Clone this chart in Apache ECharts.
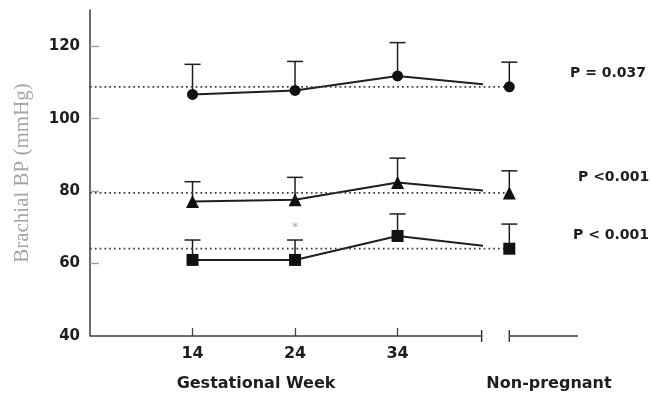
<!DOCTYPE html>
<html>
<head>
<meta charset="utf-8">
<script src="https://cdn.jsdelivr.net/npm/echarts@6/dist/echarts.min.js"></script>
<style>
  html, body { margin: 0; padding: 0; background: #fff; }
  #chart { width: 651px; height: 395px; }
</style>
</head>
<body>
<div id="chart"></div>
<script>
// Gestational weeks with measurements, and the x position of the non-pregnant column
const weeks = [14, 24, 34];
const nonPregnantX = 44.9;
const weekTicks = [14, 24, 34];
const yTickLabels = [40, 60, 80, 100, 120];

// Systolic (circles): means and upper error limits
const sbpMean = [106.7, 107.8, 111.8];
const sbpUpper = [115, 115.8, 121];
const sbpNonPreg = 108.8;
const sbpNonPregUpper = 115.6;

// Mean arterial (triangles)
const mapMean = [77.1, 77.6, 82.4];
const mapUpper = [82.6, 83.8, 89.1];
const mapNonPreg = 79.5;
const mapNonPregUpper = 85.6;

// Diastolic (squares)
const dbpMean = [61, 61, 67.6];
const dbpUpper = [66.5, 66.5, 73.7];
const dbpNonPreg = 64.1;
const dbpNonPregUpper = 70.9;

const pLabels = ['P = 0.037', 'P <0.001', 'P < 0.001'];
const starMark = [24, 69.8];

// Axis extent and the break in the x axis line
const X_MIN = 4, X_MAX = 51.6, X_BREAK = 42.2;
const Y_MIN = 40, Y_MAX = 130;

const GRID = { left: 90, right: 73, top: 10, bottom: 59 };
const plotW = 651 - GRID.left - GRID.right;
const lineGridW = plotW * (X_BREAK - X_MIN) / (X_MAX - X_MIN);

const INK = '#1e1e1e';
const BOLD = 'DejaVu Sans';

function pts(xs, ys) { return xs.map((x, i) => [x, ys[i]]); }

const groups = [
  { mean: sbpMean, upper: sbpUpper, np: sbpNonPreg, npUp: sbpNonPregUpper, symbol: 'circle', size: 11 },
  { mean: mapMean, upper: mapUpper, np: mapNonPreg, npUp: mapNonPregUpper, symbol: 'triangle', size: 13 },
  { mean: dbpMean, upper: dbpUpper, np: dbpNonPreg, npUp: dbpNonPregUpper, symbol: 'rect', size: 12 }
];

function renderErr(params, api) {
  const x = api.value(0), m = api.value(1), u = api.value(2);
  const p0 = api.coord([x, m]);
  const p1 = api.coord([x, u]);
  const half = 8;
  const st = { stroke: INK, lineWidth: 1.5 };
  return {
    type: 'group',
    children: [
      { type: 'line', shape: { x1: p0[0], y1: p0[1], x2: p1[0], y2: p1[1] }, style: st },
      { type: 'line', shape: { x1: p1[0] - half, y1: p1[1], x2: p1[0] + half, y2: p1[1] }, style: st }
    ]
  };
}

// Broken x axis line: [start, end, tick at start, tick at end]
const axisSegments = [[X_MIN, X_BREAK, 0, 1], [nonPregnantX, X_MAX, 1, 0]];
function renderAxis(params, api) {
  const a = api.coord([api.value(0), Y_MIN]);
  const b = api.coord([api.value(1), Y_MIN]);
  const st = { stroke: '#3a3a3a', lineWidth: 1.5 };
  const kids = [{ type: 'line', shape: { x1: a[0], y1: a[1], x2: b[0], y2: b[1] }, style: st }];
  if (api.value(2)) kids.push({ type: 'line', shape: { x1: a[0], y1: a[1] - 6, x2: a[0], y2: a[1] + 6 }, style: st });
  if (api.value(3)) kids.push({ type: 'line', shape: { x1: b[0], y1: b[1] - 6, x2: b[0], y2: b[1] + 6 }, style: st });
  return { type: 'group', children: kids };
}

const series = [];
groups.forEach((g) => {
  // connecting line, clipped at the axis break
  series.push({
    type: 'line', xAxisIndex: 1, yAxisIndex: 1,
    data: pts(weeks.concat([nonPregnantX]), g.mean.concat([g.np])),
    showSymbol: false, clip: true, silent: true,
    lineStyle: { color: INK, width: 2 }
  });
  // dotted reference at the non-pregnant mean
  series.push({
    type: 'line', xAxisIndex: 0, yAxisIndex: 0,
    data: [[X_MIN, g.np], [nonPregnantX, g.np]],
    showSymbol: false, silent: true,
    lineStyle: { color: '#444', width: 1.8, type: [1.8, 3] }
  });
  // upper error bars
  series.push({
    type: 'custom', xAxisIndex: 0, yAxisIndex: 0, clip: false,
    data: pts(weeks, g.mean).map((p, i) => [p[0], p[1], g.upper[i]])
      .concat([[nonPregnantX, g.np, g.npUp]]),
    encode: { x: 0, y: [1, 2] },
    renderItem: renderErr, silent: true
  });
  // markers
  series.push({
    type: 'scatter', xAxisIndex: 0, yAxisIndex: 0,
    data: pts(weeks.concat([nonPregnantX]), g.mean.concat([g.np])),
    symbol: g.symbol, symbolSize: g.size,
    itemStyle: { color: '#111', opacity: 1 }, silent: true, z: 5
  });
});

series.push({
  type: 'custom', xAxisIndex: 0, yAxisIndex: 0, clip: false,
  data: axisSegments, encode: { x: [0, 1] },
  renderItem: renderAxis, silent: true
});

series.push({
  type: 'scatter', xAxisIndex: 0, yAxisIndex: 0,
  data: [starMark], symbolSize: 0, silent: true,
  label: { show: true, position: 'inside', formatter: '*', color: '#9a9a9a', fontSize: 13, fontFamily: BOLD }
});

const chart = echarts.init(document.getElementById('chart'), null, { renderer: 'canvas' });
chart.setOption({
  backgroundColor: '#ffffff',
  animation: false,
  grid: [
    Object.assign({ outerBoundsMode: 'none' }, GRID),
    { left: GRID.left, width: lineGridW, top: GRID.top, bottom: GRID.bottom, outerBoundsMode: 'none' }
  ],
  xAxis: [
    {
      type: 'value', gridIndex: 0, min: X_MIN, max: X_MAX,
      axisLine: { show: false },
      axisTick: { show: true, inside: true, length: 8, customValues: weekTicks, lineStyle: { color: '#444', width: 1.3 } },
      axisLabel: { customValues: weekTicks, margin: 10, color: INK, fontFamily: BOLD, fontWeight: 'bold', fontSize: 16 },
      splitLine: { show: false }
    },
    { type: 'value', gridIndex: 1, min: X_MIN, max: X_BREAK, show: false }
  ],
  yAxis: [
    {
      type: 'value', gridIndex: 0, min: Y_MIN, max: Y_MAX,
      axisLine: { show: true, lineStyle: { color: '#3a3a3a', width: 1.5 } },
      axisTick: { show: true, inside: true, length: 9, customValues: [60, 80, 100, 120], lineStyle: { color: '#9a9a9a', width: 1.3 } },
      axisLabel: { customValues: yTickLabels, margin: 10, color: INK, fontFamily: BOLD, fontWeight: 'bold', fontSize: 15 },
      splitLine: { show: false },
      name: 'Brachial BP (mmHg)', nameLocation: 'middle', nameRotate: 90, nameGap: 57,
      nameTextStyle: { fontFamily: 'Liberation Serif', fontSize: 21, color: '#a6a6a6' }
    },
    { type: 'value', gridIndex: 1, min: Y_MIN, max: Y_MAX, show: false }
  ],
  graphic: [
    { type: 'text', left: 570, top: 66, style: { text: pLabels[0], font: 'bold 14px "DejaVu Sans"', fill: INK } },
    { type: 'text', left: 578, top: 170, style: { text: pLabels[1], font: 'bold 14px "DejaVu Sans"', fill: INK } },
    { type: 'text', left: 573, top: 228, style: { text: pLabels[2], font: 'bold 14px "DejaVu Sans"', fill: INK } },
    { type: 'text', x: 256, y: 384, style: { text: 'Gestational Week', font: 'bold 16px "DejaVu Sans"', fill: INK, align: 'center', verticalAlign: 'middle' } },
    { type: 'text', x: 549, y: 384, style: { text: 'Non-pregnant', font: 'bold 16px "DejaVu Sans"', fill: INK, align: 'center', verticalAlign: 'middle' } }
  ],
  series: series
});
</script>
</body>
</html>
